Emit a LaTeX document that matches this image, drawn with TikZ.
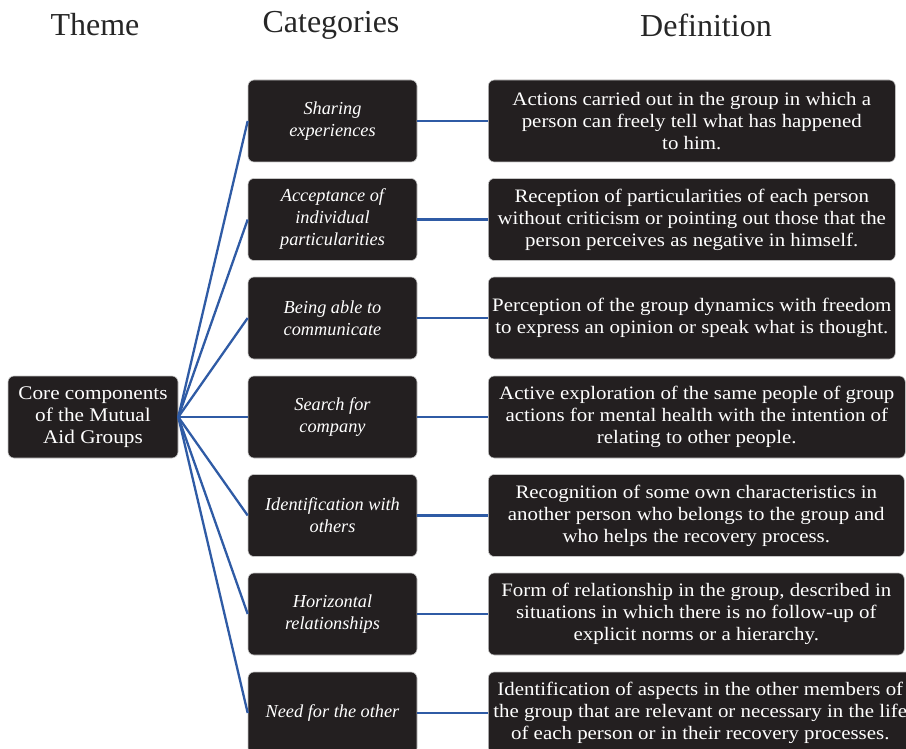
\documentclass[tikz,border=0pt]{standalone}
\usepackage{fontspec}
\setmainfont{Liberation Serif}[FakeStretch=1.1]
\newfontfamily\plainfont{Liberation Serif}
\definecolor{boxc}{HTML}{231F20}
\definecolor{linec}{HTML}{2F5BA5}
\begin{document}
\begin{tikzpicture}[x=1pt,y=-1pt,
  box/.style={fill=boxc, draw=gray!45, line width=0.6pt, rounded corners=6pt, text=white, align=center, inner sep=0pt},
  catbox/.style={box, minimum width=169pt, minimum height=82pt, font=\plainfont\fontsize{18.3}{22}\selectfont\itshape},
  defbox/.style={box, anchor=west, minimum height=82pt, font=\fontsize{19}{22}\selectfont},
  head/.style={font=\plainfont\fontsize{32}{34}\selectfont, text=black!85},
  conn/.style={draw=linec, line width=2.3pt}]
\useasboundingbox (0,0) rectangle (906,749);
\node[head] (h1) at (95,25) {Theme};
\node[head] (h2) at (331,25) {Categories};
\node[head] (h3) at (706,25) {Definition};

\node[box, minimum width=170pt, minimum height=82pt, font=\fontsize{19.3}{22}\selectfont] (theme) at (93,417) {Core components\\ of the Mutual\\ Aid Groups};

\node[catbox] (c1) at (332.5,121) {Sharing\\ experiences};
\node[catbox] (c2) at (332.5,219.5) {Acceptance of\\ individual\\ particularities};
\node[catbox] (c3) at (332.5,318) {Being able to\\ communicate};
\node[catbox] (c4) at (332.5,417) {Search for\\ company};
\node[catbox] (c5) at (332.5,515.5) {Identification with\\ others};
\node[catbox] (c6) at (332.5,614) {Horizontal\\ relationships};
\node[catbox] (c7) at (332.5,713) {Need for the other};

\node[defbox, minimum width=407pt] (d1) at (488,121) {Actions carried out in the group in which a\\ person can freely tell what has happened\\ to him.};
\node[defbox, minimum width=407pt] (d2) at (488,219.5) {Reception of particularities of each person\\ without criticism or pointing out those that the\\ person perceives as negative in himself.};
\node[defbox, minimum width=407pt] (d3) at (488,318) {Perception of the group dynamics with freedom\\ to express an opinion or speak what is thought.};
\node[defbox, minimum width=417pt] (d4) at (488,417) {Active exploration of the same people of group\\ actions for mental health with the intention of\\ relating to other people.};
\node[defbox, minimum width=416pt] (d5) at (488,515.5) {Recognition of some own characteristics in\\ another person who belongs to the group and\\ who helps the recovery process.};
\node[defbox, minimum width=416pt] (d6) at (488,614) {Form of relationship in the group, described in\\ situations in which there is no follow-up of\\ explicit norms or a hierarchy.};
\node[defbox, minimum width=424pt] (d7) at (488,713) {Identification of aspects in the other members of\\ the group that are relevant or necessary in the life\\ of each person or in their recovery processes.};

\foreach \i in {1,...,7} {
  \draw[conn] (theme.east) -- (c\i.west);
  \draw[conn] (c\i.east) -- (d\i.west);
}
\end{tikzpicture}
\end{document}
